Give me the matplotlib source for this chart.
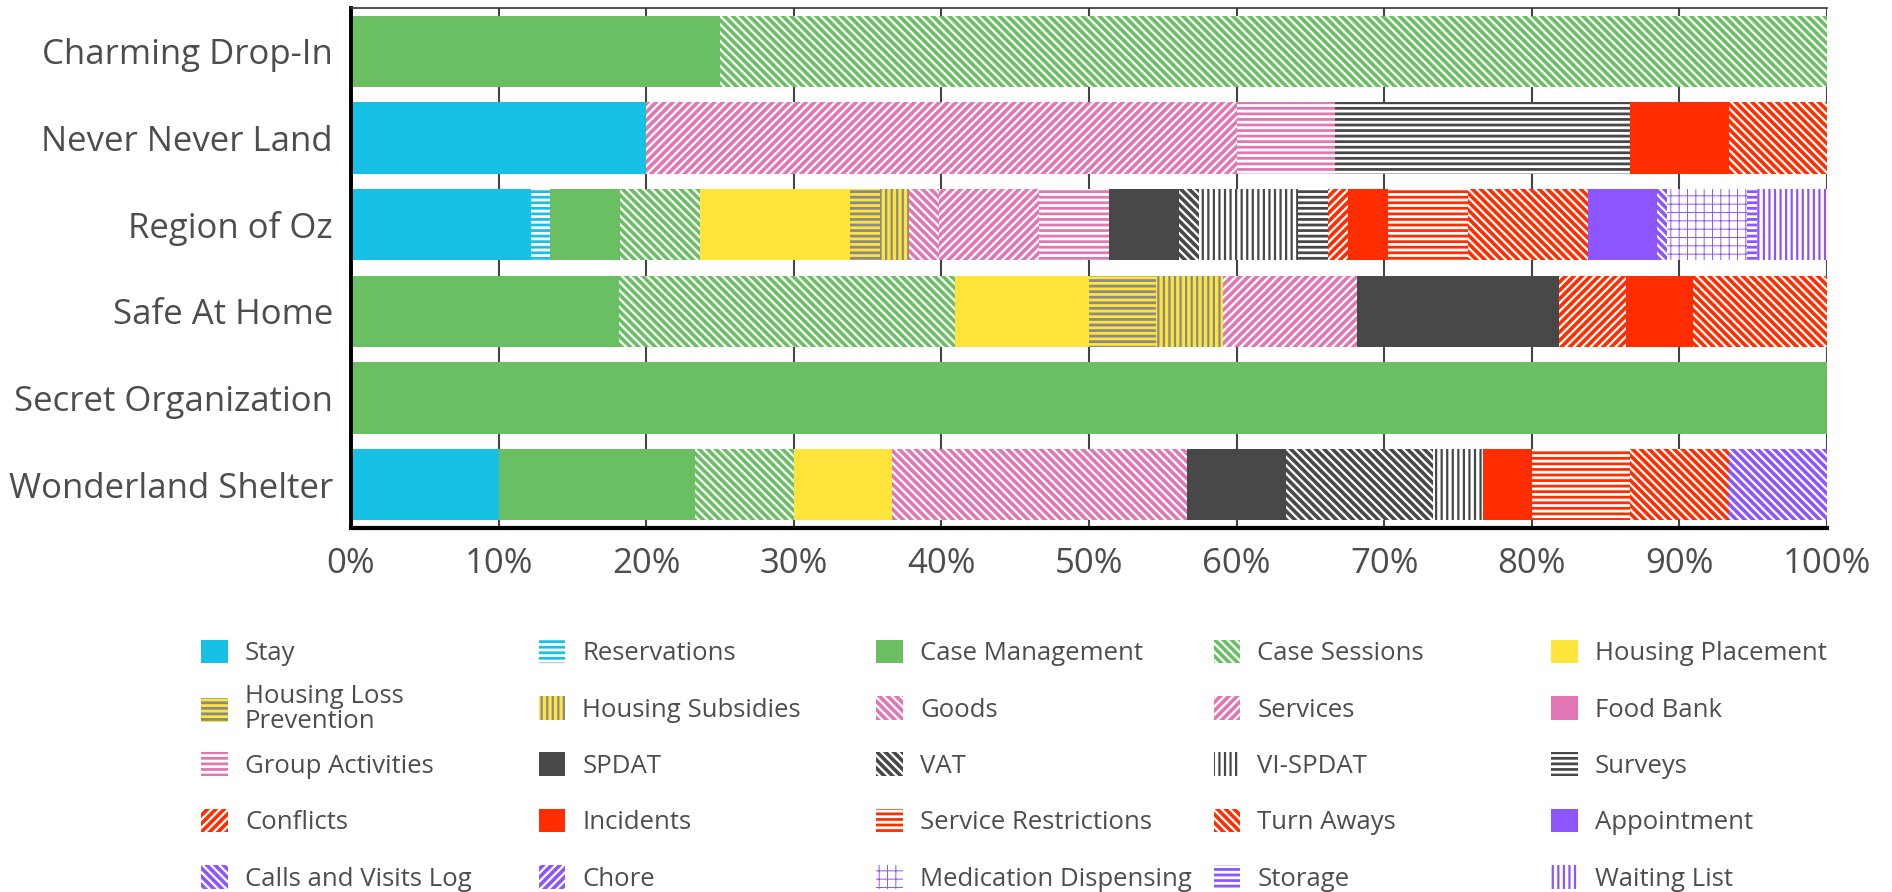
import matplotlib
matplotlib.use("Agg")
import matplotlib.pyplot as plt
import matplotlib.patches as mpatches
import numpy as np

plt.rcParams['font.family'] = ['Open Sans', 'DejaVu Sans']
plt.rcParams['hatch.linewidth'] = 2.0
plt.rcParams['text.color'] = '#4d4d4d'

# organisations, top to bottom
orgs = ["Charming Drop-In", "Never Never Land", "Region of Oz",
        "Safe At Home", "Secret Organization", "Wonderland Shelter"]

activities = ["Stay", "Reservations", "Case Management", "Case Sessions",
              "Housing Placement", "Housing Loss\nPrevention", "Housing Subsidies",
              "Goods", "Services", "Food Bank", "Group Activities", "SPDAT", "VAT",
              "VI-SPDAT", "Surveys", "Conflicts", "Incidents", "Service Restrictions",
              "Turn Aways", "Appointment", "Calls and Visits Log", "Chore",
              "Medication Dispensing", "Storage", "Waiting List"]

# counts per activity (same order as activities)
charming = [0, 0, 1, 3, 0, 0, 0, 0, 0, 0, 0, 0, 0, 0, 0, 0, 0, 0, 0, 0, 0, 0, 0, 0, 0]
never_never = [3, 0, 0, 0, 0, 0, 0, 0, 6, 0, 1, 0, 0, 0, 3, 0, 1, 0, 1, 0, 0, 0, 0, 0, 0]
oz = [18, 2, 7, 8, 15, 3, 3, 3, 10, 0, 7, 7, 2, 10, 3, 2, 4, 8, 12, 7, 1, 0, 8, 1, 7]
safe_home = [0, 0, 4, 5, 2, 1, 1, 0, 2, 0, 0, 3, 0, 0, 0, 1, 1, 0, 2, 0, 0, 0, 0, 0, 0]
secret = [0, 0, 1, 0, 0, 0, 0, 0, 0, 0, 0, 0, 0, 0, 0, 0, 0, 0, 0, 0, 0, 0, 0, 0, 0]
wonderland = [3, 0, 4, 2, 2, 0, 0, 6, 0, 0, 0, 2, 3, 1, 0, 0, 1, 2, 2, 0, 2, 0, 0, 0, 0]

counts = np.array([charming, never_never, oz, safe_home, secret, wonderland], dtype=float)
pct = counts / counts.sum(axis=1, keepdims=True) * 100

CYAN, GREEN, YELLOW = '#17C1E6', '#6ABF63', '#FFE43B'
PINK, DARK, RED, PURPLE = '#E276B5', '#484848', '#FF2D00', '#8C55FF'
GRAY = '#8a8a8a'

BK = '\\\\\\\\'   # four backslashes
FW = '////'

# (face, hatch colour, hatch) per activity
styles = [
    (CYAN, CYAN, None), ('white', CYAN, '---'),
    (GREEN, GREEN, None), ('white', GREEN, BK),
    (YELLOW, YELLOW, None), (YELLOW, GRAY, '---'), (YELLOW, GRAY, '|||'),
    ('white', PINK, BK), ('white', PINK, FW), (PINK, PINK, None), ('white', PINK, '---'),
    (DARK, DARK, None), ('white', DARK, BK), ('white', DARK, '|||'), ('white', DARK, '---'),
    ('white', RED, FW), (RED, RED, None), ('white', RED, '---'), ('white', RED, BK),
    (PURPLE, PURPLE, None), ('white', PURPLE, BK), ('white', PURPLE, FW),
    ('white', PURPLE, '++'), ('white', PURPLE, '---'), ('white', PURPLE, '|||'),
]

def hatch_lw(h):
    if h == '++':
        return 0.7
    if h == '|||':
        return 1.6
    if h in (BK, FW):
        return 2.6
    return 2.0

def set_hlw(p, lw):
    # per-patch hatch width; fall back on rcParams at draw time
    if hasattr(p, 'set_hatch_linewidth'):
        p.set_hatch_linewidth(lw)
    orig = p.draw
    def draw(renderer):
        with plt.rc_context({'hatch.linewidth': lw}):
            orig(renderer)
    p.draw = draw

fig = plt.figure(figsize=(18.92, 8.92), dpi=100)
ax = fig.add_axes([351 / 1892, 1 - 528 / 892, 1476 / 1892, 520 / 892])

y = np.arange(len(orgs))
left = np.zeros(len(orgs))
handles = []
for j, name in enumerate(activities):
    face, hc, hatch = styles[j]
    bars = ax.barh(y, pct[:, j], left=left, height=0.82, facecolor=face,
                   edgecolor=hc, hatch=hatch, linewidth=0, zorder=2)
    for b in bars:
        set_hlw(b, hatch_lw(hatch))
    handles.append(mpatches.Patch(facecolor=face, edgecolor=hc, hatch=hatch, linewidth=0))
    left += pct[:, j]

ax.set_xlim(0, 100)
ax.set_ylim(5.5, -0.5)
ax.set_yticks(y)
ax.set_yticklabels(orgs)
ax.set_xticks(np.arange(0, 101, 10))
ax.set_xticklabels(["%d%%" % v for v in range(0, 101, 10)])
ax.tick_params(axis='both', length=0, labelsize=25, labelcolor='#4d4d4d')
ax.tick_params(axis='x', pad=14)
ax.tick_params(axis='y', pad=13)
ax.set_axisbelow(True)
ax.grid(axis='x', color='#444444', linewidth=1.5, zorder=0)
ax.spines['left'].set_linewidth(2.8)
ax.spines['left'].set_color('black')
ax.spines['bottom'].set_linewidth(3)
ax.spines['bottom'].set_color('black')
ax.spines['top'].set_color('#333333')
ax.spines['top'].set_linewidth(1.2)
ax.spines['right'].set_visible(False)

# legend: 5 x 5 grid, row-major
for i, (h, lab) in enumerate(zip(handles, activities)):
    r, c = divmod(i, 5)
    leg = fig.legend([h], [lab], loc='center left',
                     bbox_to_anchor=((201 + c * 337.5) / 1892, 1 - (653 + r * 56.3) / 892),
                     frameon=False, fontsize=18.5, borderpad=0, borderaxespad=0,
                     handlelength=1.05, handleheight=1.05, handletextpad=0.66)
    for p in leg.get_patches():
        set_hlw(p, hatch_lw(styles[i][2]))
    for t in leg.get_texts():
        t.set_linespacing(1.0)
        t.set_color('#4d4d4d')

fig.savefig("out.png", dpi=100)
